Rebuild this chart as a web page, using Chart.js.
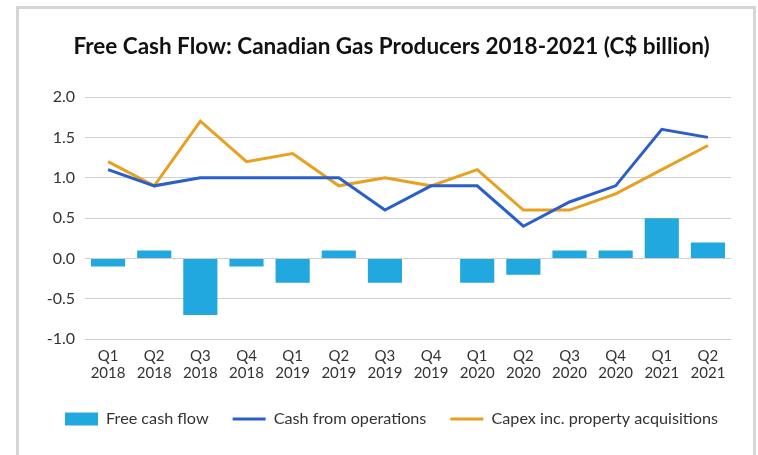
<!DOCTYPE html>
<html>
<head>
<meta charset="utf-8">
<script src="https://cdn.jsdelivr.net/npm/chart.js@4"></script>
<style>
  html, body { margin: 0; padding: 0; background: #fff; }
  #frame {
    position: absolute; left: 16px; top: 6px; width: 734px; height: 470px;
    border: 3px solid #d6d6d6; box-sizing: content-box;
  }
  #wrap { position: absolute; left: 0; top: 0; width: 758px; height: 455px; }
</style>
</head>
<body>
<div id="frame"></div>
<div id="wrap"><canvas id="fcf"></canvas></div>
<script>
const quarters = ['Q1', 'Q2', 'Q3', 'Q4', 'Q1', 'Q2', 'Q3', 'Q4', 'Q1', 'Q2', 'Q3', 'Q4', 'Q1', 'Q2'];
const years = ['2018', '2018', '2018', '2018', '2019', '2019', '2019', '2019', '2020', '2020', '2020', '2020', '2021', '2021'];
const freeCashFlow = [-0.1, 0.1, -0.7, -0.1, -0.3, 0.1, -0.3, 0.0, -0.3, -0.2, 0.1, 0.1, 0.5, 0.2];
const cashFromOps = [1.1, 0.9, 1.0, 1.0, 1.0, 1.0, 0.6, 0.9, 0.9, 0.4, 0.7, 0.9, 1.6, 1.5];
const capex = [1.2, 0.9, 1.7, 1.2, 1.3, 0.9, 1.0, 0.9, 1.1, 0.6, 0.6, 0.8, 1.1, 1.4];
const yTicks = [-1.0, -0.5, 0.0, 0.5, 1.0, 1.5, 2.0];

const font = 'Lato, "Noto Sans", sans-serif';

new Chart(document.getElementById('fcf'), {
  type: 'bar',
  data: {
    labels: quarters.map((q, i) => [q, years[i]]),
    datasets: [
      {
        type: 'bar',
        label: 'Free cash flow',
        data: freeCashFlow,
        backgroundColor: '#21a8de',
        borderWidth: 0,
        barPercentage: 0.74,
        categoryPercentage: 1
      },
      {
        type: 'line',
        label: 'Cash from operations',
        data: cashFromOps,
        borderColor: '#2a5ecb',
        backgroundColor: '#2a5ecb',
        borderWidth: 3,
        pointRadius: 0,
        tension: 0
      },
      {
        type: 'line',
        label: 'Capex inc. property acquisitions',
        data: capex,
        borderColor: '#e8a020',
        backgroundColor: '#e8a020',
        borderWidth: 3,
        pointRadius: 0,
        tension: 0
      }
    ]
  },
  options: {
    responsive: true,
    maintainAspectRatio: false,
    animation: false,
    layout: { padding: { top: 12, left: 25, right: 0, bottom: 18 } },
    plugins: {
      tooltip: { enabled: false },
      title: {
        display: true,
        text: 'Free Cash Flow: Canadian Gas Producers 2018-2021 (C$ billion)',
        color: '#111',
        font: { family: font, size: 22.5, weight: 'bold' },
        padding: { top: 21, bottom: 37 }
      },
      legend: {
        position: 'bottom',
        labels: {
          color: '#333',
          font: { family: font, size: 16.2 },
          usePointStyle: true,
          pointStyleWidth: 33,
          boxHeight: 13,
          padding: 24,
          generateLabels(chart) {
            const items = Chart.defaults.plugins.legend.labels.generateLabels(chart);
            items.forEach((it, i) => {
              if (i === 0) { it.pointStyle = 'rect'; it.lineWidth = 0; }
              else { it.pointStyle = 'line'; it.lineWidth = 3; }
            });
            return items;
          }
        }
      }
    },
    scales: {
      x: {
        grid: { display: false },
        border: { display: false },
        afterFit(scale) { scale.height += 5; },
        ticks: { color: '#333', font: { family: font, size: 15, lineHeight: 1.15 }, padding: 0, maxRotation: 0, autoSkip: false }
      },
      y: {
        min: -1,
        max: 2,
        afterBuildTicks(scale) { scale.ticks = yTicks.map(v => ({ value: v })); },
        afterFit(scale) { scale.width = 60; },
        grid: { color: '#cfcfcf', lineWidth: 1, drawTicks: false },
        border: { display: false },
        ticks: { color: '#333', font: { family: font, size: 16 }, padding: 10, callback: v => v.toFixed(1) }
      },
      yRight: {
        position: 'right',
        min: -1,
        max: 2,
        afterFit(scale) { scale.width = 27; },
        grid: { display: false, drawTicks: false },
        border: { display: false },
        ticks: { display: false }
      }
    }
  }
});
</script>
</body>
</html>
